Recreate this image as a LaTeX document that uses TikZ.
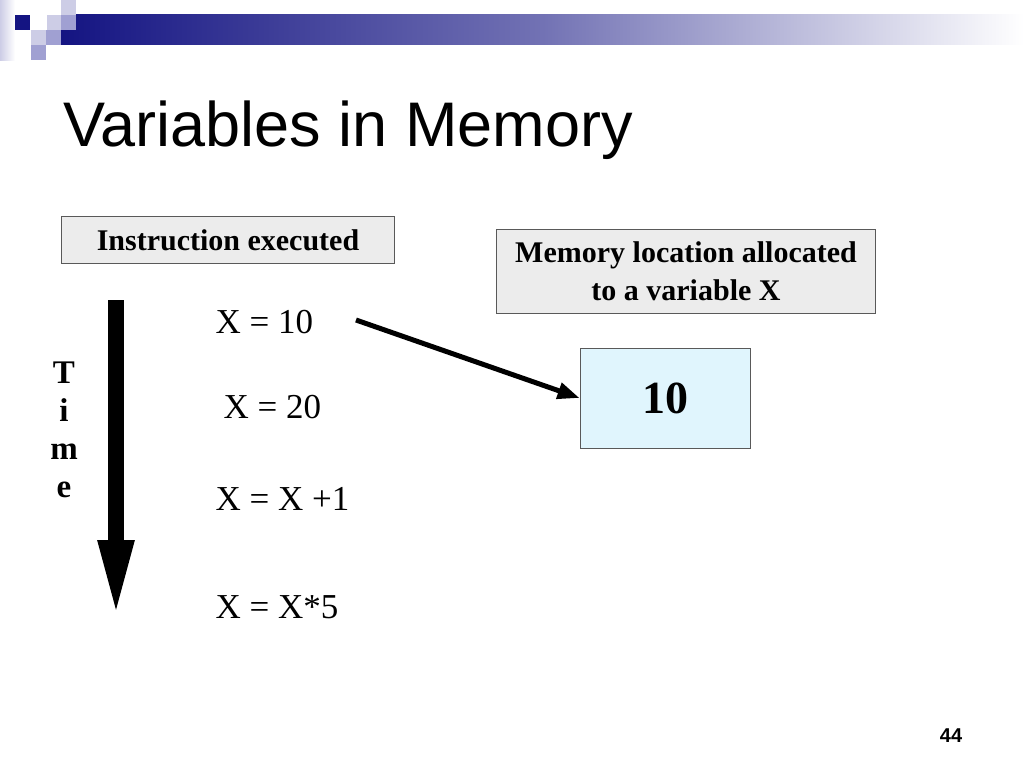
\documentclass[tikz,border=0pt]{standalone}
\usepackage{fontspec}
\setmainfont{Liberation Serif}
\newfontfamily\hsans{Liberation Sans}
\usetikzlibrary{arrows.meta}
\definecolor{navy}{RGB}{20,20,130}
\definecolor{lav}{RGB}{205,205,230}
\definecolor{med}{RGB}{160,160,210}
\tikzset{box/.style={draw=gray!70!black,fill=gray!15,line width=0.8pt},
 instr/.style={anchor=west,font=\fontsize{35}{40}\selectfont}}
\begin{document}
\begin{tikzpicture}[x=1pt,y=-1pt]
\useasboundingbox (0,0) rectangle (1024,768);
\fill[left color=lav,right color=white] (0,0) rectangle (15,60);
\fill[left color=navy,right color=white,middle color=navy!60!white] (61,15) rectangle (1024,45);
\fill[navy] (15,15) rectangle (30,30);
\fill[lav] (47,15) rectangle (61,30);
\fill[med] (61,15) rectangle (76,30);
\fill[lav] (61,0) rectangle (76,15);
\fill[lav] (31,30) rectangle (46,45);
\fill[med] (46,30) rectangle (61,45);
\fill[med] (31,45) rectangle (46,60);
\node[anchor=west,font=\hsans\fontsize{63}{70}\selectfont] (title) at (60,130) {Variables in Memory};
\node[box,minimum width=333,minimum height=47] (ie) at (228,240) {};
\node[font=\bfseries\fontsize{30}{36}\selectfont] (iet) at (ie.center) {Instruction executed};
\node[box,minimum width=379,minimum height=84,align=center,font=\bfseries\fontsize{30}{38}\selectfont] (ml) at (686,271) {Memory location allocated\\to a variable X};
\node[draw=gray!70!black,fill=cyan!12,line width=0.8pt,minimum width=170,minimum height=100,font=\bfseries\fontsize{46}{50}\selectfont] (val) at (665,398) {10};
\node[instr] (i1) at (212,322) {X = 10};
\node[instr] (i2) at (220,407) {X = 20};
\node[instr] (i3) at (212,499) {X = X +1};
\node[instr] (i4) at (212,607) {X = X*5};
\node[align=center,font=\bfseries\fontsize{33}{38}\selectfont] (t) at (64,430) {T\\i\\m\\e};
\coordinate (ta) at (116,300);
\coordinate (tb) at (116,620);
\draw[line width=16pt,-{Triangle[width=32pt,length=80pt]}] (ta) -- (tb);
\coordinate (as) at (356,320);
\draw[line width=5pt,-{Triangle[width=16pt,length=22pt]}] (as) -- (val.west|-0,398);
\node[font=\hsans\bfseries\fontsize{20}{22}\selectfont] (pg) at (951,736) {44};
\end{tikzpicture}
\end{document}
